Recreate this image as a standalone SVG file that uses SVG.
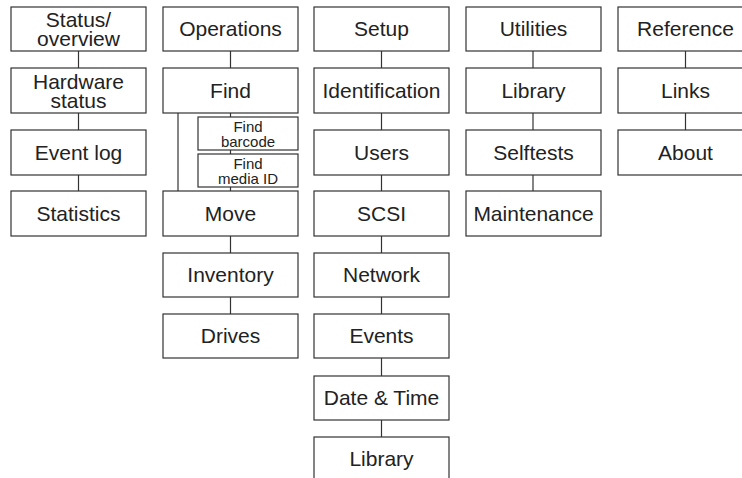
<svg xmlns="http://www.w3.org/2000/svg" width="742" height="478" viewBox="0 0 742 478">
<style>
rect{fill:#fff;stroke:#333;stroke-width:1.2}
line{stroke:#333;stroke-width:1.2}
text{font-family:"Liberation Sans",Arial,sans-serif;font-size:21px;fill:#222;text-anchor:middle}
.s{font-size:15px}
</style>
<rect x="0" y="0" width="742" height="478" style="stroke:none"/>
<g id="connectors">
<line x1="78.5" y1="51" x2="78.5" y2="191"/>
<line x1="230.5" y1="51" x2="230.5" y2="358"/>
<line x1="178" y1="113" x2="178" y2="191"/>
<line x1="381.5" y1="51" x2="381.5" y2="437"/>
<line x1="533" y1="51" x2="533" y2="191"/>
<line x1="685.5" y1="51" x2="685.5" y2="130"/>
</g>
<g id="status"><rect x="11" y="7" width="135" height="44"/><text x="78.5" y="26.5">Status/</text><text x="78.5" y="46">overview</text></g>
<g id="hardware"><rect x="11" y="68" width="135" height="45"/><text x="78.5" y="89">Hardware</text><text x="78.5" y="108">status</text></g>
<g id="eventlog"><rect x="11" y="130" width="135" height="45"/><text x="78.5" y="160">Event log</text></g>
<g id="statistics"><rect x="11" y="191" width="135" height="45"/><text x="78.5" y="221">Statistics</text></g>
<g id="operations"><rect x="163" y="7" width="135" height="44"/><text x="230.5" y="36">Operations</text></g>
<g id="find"><rect x="163" y="68" width="135" height="45"/><text x="230.5" y="98">Find</text></g>
<g id="findbarcode"><rect x="198" y="117" width="100" height="33"/><text class="s" x="248" y="132">Find</text><text class="s" x="248" y="147">barcode</text></g>
<g id="findmedia"><rect x="198" y="154" width="100" height="33"/><text class="s" x="248" y="168.5">Find</text><text class="s" x="248" y="183.5">media ID</text></g>
<g id="move"><rect x="163" y="191" width="135" height="45"/><text x="230.5" y="221">Move</text></g>
<g id="inventory"><rect x="163" y="253" width="135" height="44"/><text x="230.5" y="282">Inventory</text></g>
<g id="drives"><rect x="163" y="314" width="135" height="44"/><text x="230.5" y="343">Drives</text></g>
<g id="setup"><rect x="314" y="7" width="135" height="44"/><text x="381.5" y="36">Setup</text></g>
<g id="identification"><rect x="314" y="68" width="135" height="45"/><text x="381.5" y="98">Identification</text></g>
<g id="users"><rect x="314" y="130" width="135" height="45"/><text x="381.5" y="160">Users</text></g>
<g id="scsi"><rect x="314" y="191" width="135" height="45"/><text x="381.5" y="221">SCSI</text></g>
<g id="network"><rect x="314" y="253" width="135" height="44"/><text x="381.5" y="282">Network</text></g>
<g id="events"><rect x="314" y="314" width="135" height="44"/><text x="381.5" y="343">Events</text></g>
<g id="datetime"><rect x="314" y="376" width="135" height="44"/><text x="381.5" y="405">Date &amp; Time</text></g>
<g id="library2"><rect x="314" y="437" width="135" height="46"/><text x="381.5" y="466">Library</text></g>
<g id="utilities"><rect x="466" y="7" width="135" height="44"/><text x="533.5" y="36">Utilities</text></g>
<g id="library"><rect x="466" y="68" width="135" height="45"/><text x="533.5" y="98">Library</text></g>
<g id="selftests"><rect x="466" y="130" width="135" height="45"/><text x="533.5" y="160">Selftests</text></g>
<g id="maintenance"><rect x="466" y="191" width="135" height="45"/><text x="533.5" y="221">Maintenance</text></g>
<g id="reference"><rect x="618" y="7" width="135" height="44"/><text x="685.5" y="36">Reference</text></g>
<g id="links"><rect x="618" y="68" width="135" height="45"/><text x="685.5" y="98">Links</text></g>
<g id="about"><rect x="618" y="130" width="135" height="45"/><text x="685.5" y="160">About</text></g>
</svg>
